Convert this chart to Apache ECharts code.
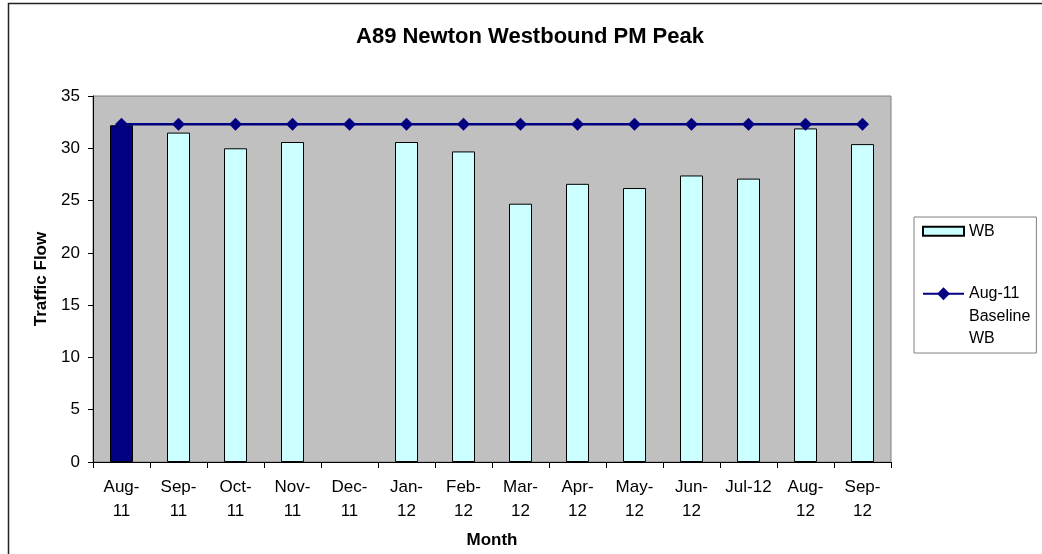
<!DOCTYPE html>
<html>
<head>
<meta charset="utf-8">
<script src="https://cdn.jsdelivr.net/npm/echarts@6/dist/echarts.min.js"></script>
<style>
html,body{margin:0;padding:0;background:#fff;}
#chart{width:1042px;height:554px;}
</style>
</head>
<body>
<div id="chart"></div>
<script>
var months = ['Aug-11','Sep-11','Oct-11','Nov-11','Dec-11','Jan-12','Feb-12','Mar-12','Apr-12','May-12','Jun-12','Jul-12','Aug-12','Sep-12'];
var tickLabels = ['Aug-\n11','Sep-\n11','Oct-\n11','Nov-\n11','Dec-\n11','Jan-\n12','Feb-\n12','Mar-\n12','Apr-\n12','May-\n12','Jun-\n12','Jul-12','Aug-\n12','Sep-\n12'];
var wbValues = [32.2, 31.5, 30.0, 30.6, null, 30.6, 29.7, 24.7, 26.6, 26.2, 27.4, 27.1, 31.9, 30.4];
var baselineValues = [32.3, 32.3, 32.3, 32.3, 32.3, 32.3, 32.3, 32.3, 32.3, 32.3, 32.3, 32.3, 32.3, 32.3];
var yTicks = [0, 5, 10, 15, 20, 25, 30, 35];
var baselineMonthIndex = 0;

var FONT = "'Liberation Sans', Arial, sans-serif";
var chart = echarts.init(document.getElementById('chart'), null, {renderer: 'canvas'});

var barData = wbValues.map(function (v, i) {
  if (i === baselineMonthIndex) {
    return {value: v, itemStyle: {color: '#000080'}};
  }
  return v;
});

var option = {
  backgroundColor: '#ffffff',
  animation: false,
  textStyle: {fontFamily: FONT},
  title: {
    text: 'A89 Newton Westbound PM Peak',
    left: 525,
    top: 21,
    textAlign: 'center',
    textStyle: {fontFamily: FONT, fontSize: 22, fontWeight: 'bold', color: '#000'}
  },
  graphic: [{
    type: 'rect',
    shape: {x: 8.5, y: 3.5, width: 1100, height: 600},
    style: {fill: 'none', stroke: '#222', lineWidth: 1.5},
    silent: true,
    z: -10
  }],
  grid: {
    left: 93, right: 151, top: 96, bottom: 91,
    show: true,
    backgroundColor: '#C0C0C0',
    borderColor: '#808080',
    borderWidth: 1
  },
  legend: {
    orient: 'vertical',
    left: 914,
    top: 217,
    padding: [3, 6, 3, 8],
    itemGap: -5,
    itemWidth: 41,
    itemHeight: 16,
    borderColor: '#808080',
    borderWidth: 1,
    backgroundColor: '#fff',
    data: [
      {name: 'WB', icon: 'path://M0,0 L41,0 L41,9 L0,9 Z'},
      {name: 'Aug-11 Baseline WB'}
    ],
    formatter: function (name) {
      return name === 'WB' ? 'WB' : '\n\nAug-11\nBaseline\nWB';
    },
    textStyle: {fontFamily: FONT, fontSize: 16, lineHeight: 22.5, color: '#000'}
  },
  xAxis: {
    type: 'category',
    data: months,
    boundaryGap: true,
    name: 'Month',
    nameLocation: 'middle',
    nameGap: 70,
    nameTextStyle: {fontFamily: FONT, fontSize: 17, fontWeight: 'bold', color: '#000'},
    axisLine: {show: true, lineStyle: {color: '#000', width: 1}},
    axisTick: {show: true, length: 6, inside: false, lineStyle: {color: '#000'}},
    axisLabel: {
      interval: 0,
      margin: 13,
      fontFamily: FONT,
      fontSize: 17,
      lineHeight: 24,
      color: '#000',
      formatter: function (val, idx) { return tickLabels[idx]; }
    },
    splitLine: {show: false}
  },
  yAxis: {
    type: 'value',
    min: 0,
    max: 35,
    interval: 5,
    name: 'Traffic Flow',
    nameLocation: 'middle',
    nameGap: 40,
    nameRotate: 90,
    nameTextStyle: {fontFamily: FONT, fontSize: 17, fontWeight: 'bold', color: '#000'},
    axisLine: {show: true, lineStyle: {color: '#000', width: 1}},
    axisTick: {show: true, length: 5, inside: false, lineStyle: {color: '#000'}},
    axisLabel: {
      margin: 13,
      fontFamily: FONT,
      fontSize: 17,
      color: '#000',
      formatter: function (v) { return yTicks.indexOf(v) >= 0 ? String(v) : ''; }
    },
    splitLine: {show: false}
  },
  series: [
    {
      name: 'WB',
      type: 'bar',
      data: barData,
      barWidth: 23,
      itemStyle: {color: '#CCFFFF', borderColor: '#000', borderWidth: 1},
      z: 2
    },
    {
      name: 'Aug-11 Baseline WB',
      type: 'line',
      data: baselineValues,
      symbol: 'diamond',
      symbolSize: 13,
      showSymbol: true,
      color: '#000080',
      lineStyle: {color: '#000080', width: 2.5},
      itemStyle: {color: '#000080'},
      z: 3
    }
  ]
};
chart.setOption(option);
</script>
</body>
</html>
